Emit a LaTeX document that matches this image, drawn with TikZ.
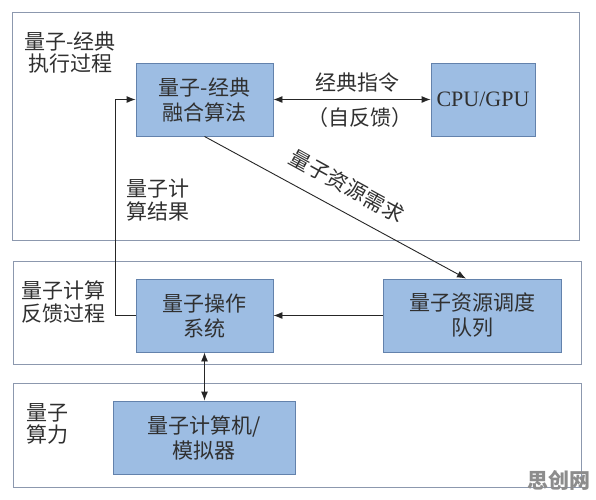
\documentclass[tikz,border=0pt]{standalone}
\usepackage{fontspec}
\setmainfont{Liberation Serif}
\newfontfamily\cjk{Noto Sans CJK SC}
\usetikzlibrary{arrows.meta}
\definecolor{boxfill}{HTML}{9DBDE3}
\definecolor{boxedge}{HTML}{6382AC}
\definecolor{panel}{HTML}{8C98AE}
\definecolor{txt}{HTML}{303030}
\begin{document}
\begin{tikzpicture}[x=1pt,y=-1pt,
  panelbox/.style={draw=panel, line width=1pt, inner sep=0pt},
  blk/.style={draw=boxedge, fill=boxfill, line width=0.9pt, text=txt, align=center,
    font=\cjk\fontsize{21}{25}\selectfont, inner sep=0pt, minimum height=73pt},
  lbl/.style={text=txt, inner sep=0pt, font=\cjk\fontsize{21}{22.5}\selectfont},
  arr/.style={line width=0.9pt, draw=black!85, -{Latex[length=9pt,width=7pt]}},
  darr/.style={line width=0.9pt, draw=black!85, {Latex[length=9pt,width=7pt]}-{Latex[length=9pt,width=7pt]}}]
\fill[white] (0,0) rectangle (596,499);
\useasboundingbox (0,0) rectangle (596,499);
% panels
\node[panelbox, minimum width=567pt, minimum height=228pt] (p1) at (295.5,126) {};
\node[panelbox, minimum width=568pt, minimum height=103pt] (p2) at (297,312.5) {};
\node[panelbox, minimum width=568pt, minimum height=104pt] (p3) at (297,435) {};
% panel labels
\node[lbl, align=center] (p1l) at (70,52.5) {量子-经典\\执行过程};
\node[lbl, align=center] (p2l) at (63.5,302) {量子计算\\反馈过程};
\node[lbl, align=left] (p3l) at (47,424) {量子\\算力};
% boxes
\node[blk, minimum width=137pt] (fuse) at (204.5,99.5) {量子-经典\\融合算法};
\node[blk, minimum width=104pt, font=\fontsize{22}{25}\selectfont] (cpu) at (483,99.5) {CPU/GPU};
\node[blk, minimum width=137pt] (os) at (204.5,315.5) {量子操作\\系统};
\node[blk, minimum width=178pt] (queue) at (472,315.5) {量子资源调度\\队列};
\node[blk, minimum width=182pt] (comp) at (204,437.5) {量子计算机/\\模拟器};
% connectors
\draw[darr] (fuse.east) -- (cpu.west);
\node[lbl] (ins) at (357,83) {经典指令};
\node[lbl] (self) at (360,118) {（自反馈）};
\draw[arr] (fuse.south) -- ([xshift=-6pt]queue.north);
\node[lbl, rotate=-28.7] (req) at (347,186) {量子资源需求};
\draw[arr] (os.west) -- ++(-20,0) |- (fuse.west);
\node[lbl, align=left] (res) at (158,200) {量子计\\算结果};
\draw[arr] (queue.west) -- (os.east);
\draw[darr] (os.south) -- (comp.north -| os.south);
% watermark
\node[text=black!45, inner sep=0pt, font=\cjk\bfseries\fontsize{21}{22}\selectfont] (wm) at (559,480) {思创网};
\end{tikzpicture}
\end{document}
